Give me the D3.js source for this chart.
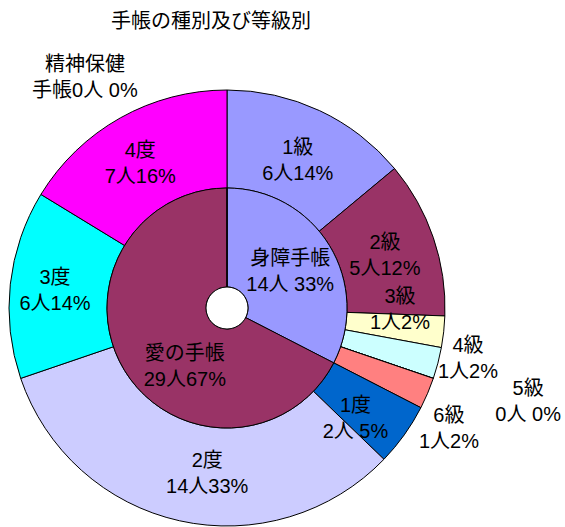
<!DOCTYPE html>
<html>
<head>
<meta charset="utf-8">
<script src="https://cdn.jsdelivr.net/npm/d3@7"></script>
<style>
  body { margin: 0; background: #fff; }
  text { font-family: "Liberation Sans", "Noto Sans CJK JP", sans-serif; fill: #000; }
</style>
</head>
<body>
<div id="chart"></div>
<script>
// inner ring: handbook type
var typeNames = ["身障手帳", "愛の手帳", "精神保健手帳"];
var typeCounts = [14, 29, 0];
// outer ring: grade
var gradeNames = ["1級", "2級", "3級", "4級", "5級", "6級", "1度", "2度", "3度", "4度"];
var gradeCounts = [6, 5, 1, 1, 0, 1, 2, 14, 6, 7];

var typeColors = ["#9999FF", "#993366", "#FFFFCC"];
var gradeColors = ["#9999FF", "#993366", "#FFFFCC", "#CCFFFF", "#660066",
                   "#FF8080", "#0066CC", "#CCCCFF", "#00FFFF", "#FF00FF"];

// labels with a space between count and percent (as in the original)
var spaced = ["5級", "1度", "身障手帳", "精神保健手帳"];

var width = 565, height = 527;
var cx = 227, cy = 308;
var rHole = 21, rMid = 120, rOuter = 218;

var svg = d3.select("#chart").append("svg")
    .attr("width", width)
    .attr("height", height);

svg.append("text")
    .attr("x", 211)
    .attr("y", 28)
    .attr("text-anchor", "middle")
    .style("font-size", "20px")
    .text("手帳の種別及び等級別");

var g = svg.append("g").attr("transform", "translate(" + cx + "," + cy + ")");

var pie = d3.pie().sort(null).value(function(d) { return d.value; });

var total = d3.sum(typeCounts);

var inner = pie(typeNames.map(function(n, i) { return {name: n, value: typeCounts[i], color: typeColors[i]}; }));
var outer = pie(gradeNames.map(function(n, i) { return {name: n, value: gradeCounts[i], color: gradeColors[i]}; }));

var arcInner = d3.arc().innerRadius(rHole).outerRadius(rMid);
var arcOuter = d3.arc().innerRadius(rMid).outerRadius(rOuter);

g.selectAll(".outer").data(outer).enter().append("path")
    .attr("class", "outer")
    .attr("d", arcOuter)
    .attr("fill", function(d) { return d.data.color; })
    .attr("stroke", "#000")
    .attr("stroke-width", 1);

g.selectAll(".inner").data(inner).enter().append("path")
    .attr("class", "inner")
    .attr("d", arcInner)
    .attr("fill", function(d) { return d.data.color; })
    .attr("stroke", "#000")
    .attr("stroke-width", 1);

// label placement: radius for the label arc and a small nudge
var labelLayout = {
    "1級": {r: 169, dx: -1, dy: 5},
    "2級": {r: 169, dx: -2, dy: 2},
    "3級": {r: 169, dx: 5, dy: -17},
    "4級": {r: 246, dx: 3, dy: -12},
    "5級": {r: 315, dx: 3, dy: -9},
    "6級": {r: 252, dx: -10, dy: 21},
    "1度": {r: 169, dx: -9, dy: 12},
    "2度": {r: 169, dx: 17, dy: 0},
    "3度": {r: 169, dx: -4, dy: 0},
    "4度": {r: 169, dx: -4, dy: 2},
    "身障手帳": {r: 70.5, dx: 3, dy: 0},
    "愛の手帳": {r: 70.5, dx: 18, dy: 21},
    "精神保健手帳": {r: 271, dx: 0, dy: 0, ang: -0.552}
};

function labelLines(d) {
    var n = d.data.name, v = d.data.value;
    var pct = Math.round(v / total * 100);
    var sep = spaced.indexOf(n) >= 0 ? " " : "";
    if (n === "精神保健手帳") return ["精神保健", "手帳" + v + "人" + sep + pct + "%"];
    return [n, v + "人" + sep + pct + "%"];
}

var all = outer.concat(inner);
var labels = svg.append("g").attr("transform", "translate(" + cx + "," + cy + ")")
    .selectAll("text").data(all).enter().append("text")
    .attr("text-anchor", "middle")
    .style("font-size", "20px")
    .attr("transform", function(d) {
        var L = labelLayout[d.data.name];
        var a = L.ang !== undefined ? L.ang : (d.startAngle + d.endAngle) / 2;
        var x = L.r * Math.sin(a) + L.dx, y = -L.r * Math.cos(a) + L.dy;
        return "translate(" + x + "," + y + ")";
    });

labels.each(function(d) {
    var t = d3.select(this);
    labelLines(d).forEach(function(s, i) {
        t.append("tspan")
            .attr("x", 0)
            .attr("y", i === 0 ? -6 : 20)
            .text(s);
    });
});

// white hole in the middle
g.append("circle")
    .attr("r", rHole)
    .attr("fill", "#fff")
    .attr("stroke", "#000")
    .attr("stroke-width", 1);
</script>
</body>
</html>
